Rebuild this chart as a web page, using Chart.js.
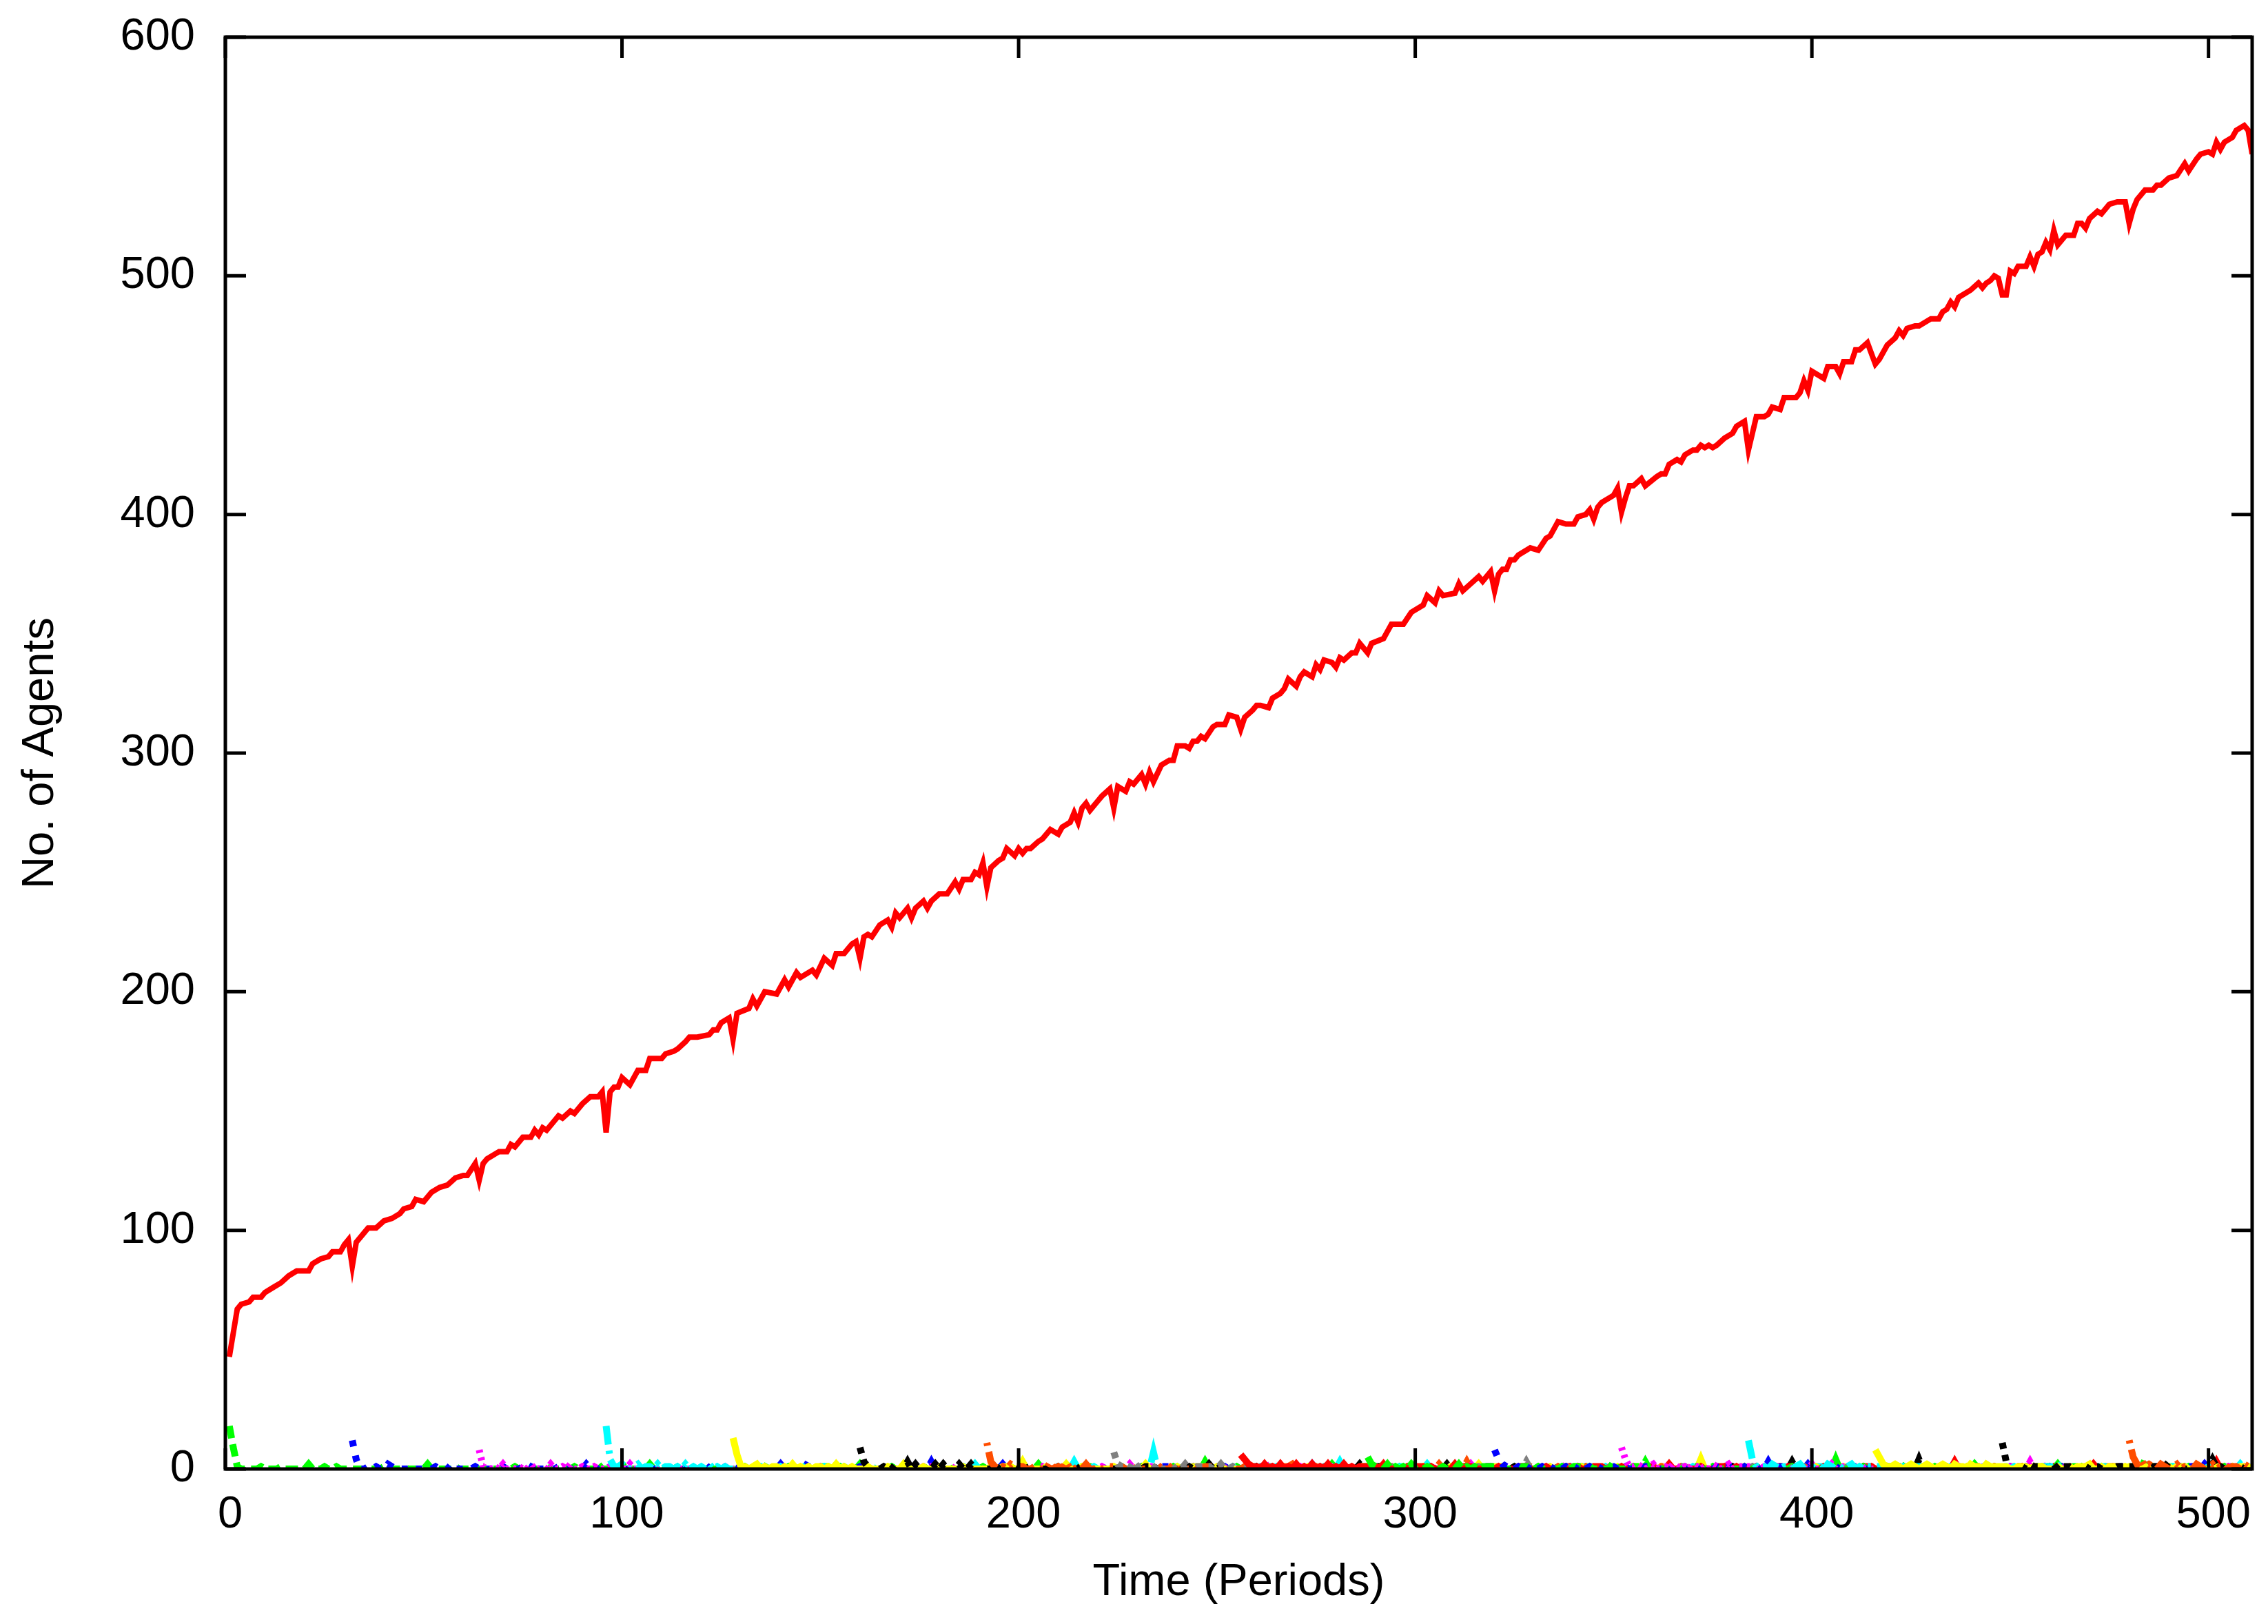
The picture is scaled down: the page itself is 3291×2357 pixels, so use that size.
<!DOCTYPE html>
<html>
<head>
<meta charset="utf-8">
<title>No. of Agents</title>
<script src="https://cdn.jsdelivr.net/npm/chart.js@4.4.1/dist/chart.umd.min.js"></script>
<style>
	html, body { margin: 0; padding: 0; background: #fff; }
	canvas { display: block; }
</style>
</head>
<body>
<canvas id="graph" width="3291" height="2357"></canvas>
<script>
// main group, [period, agents]
var redLine = [[1,47],[2,57],[3,67],[4,69],[6,70],[7,72],[9,72],[10,74],[12,76],[14,78],[16,81],[18,83],[21,83],[22,86],[24,88],[26,89],[27,91],[29,91],[30,94],[31,96],[32,85],[33,95],[35,99],[36,101],[38,101],[40,104],[42,105],[44,107],[45,109],[47,110],[48,113],[50,112],[52,116],[54,118],[56,119],[58,122],[60,123],[61,123],[63,128],[64,121],[65,128],[66,130],[69,133],[71,133],[72,136],[73,135],[75,139],[77,139],[78,142],[79,140],[80,143],[81,142],[84,148],[85,147],[87,150],[88,149],[90,153],
	[92,156],[94,156],[95,158],[96,141],[97,158],[98,160],[99,160],[100,164],[102,161],[104,167],[106,167],[107,172],[110,172],[111,174],[113,175],[114,176],[116,179],[117,181],[119,181],[122,182],[123,184],[124,184],[125,187],[127,189],[128,180],[129,191],[132,193],[133,197],[134,194],[136,200],[139,199],[141,205],[142,202],[144,208],[145,206],[148,209],[149,207],[151,214],[153,211],[154,216],[156,216],[158,220],[159,221],[160,214],[161,223],[162,224],[163,223],[165,228],[167,230],[168,227],[169,233],[170,231],[172,235],[173,231],[174,235],[176,238],[177,235],[178,238],[180,241],
	[182,241],[184,246],[185,243],[186,247],[188,247],[189,250],[190,249],[191,254],[192,244],[193,252],[195,255],[196,256],[197,260],[199,257],[200,260],[201,258],[202,260],[203,260],[205,263],[206,264],[208,268],[210,266],[211,269],[213,271],[214,275],[215,271],[216,277],[217,279],[218,276],[220,280],[221,282],[223,285],[224,277],[225,286],[227,284],[228,288],[229,287],[231,291],[232,287],[233,292],[234,288],[236,295],[238,297],[239,297],[240,303],[242,303],[243,302],[244,305],[245,305],[246,307],[247,306],[249,311],[250,312],[252,312],[253,316],[255,315],[256,310],[257,315],[259,318],[260,320],[261,320],[263,319],[264,323],[266,325],[267,327],[268,331],[270,328],
	[271,332],[272,334],[274,332],[275,337],[276,335],[277,339],[279,338],[280,336],[281,340],[282,339],[284,342],[285,342],[286,346],[288,342],[289,346],[292,348],[293,351],[294,354],[297,354],[299,359],[302,362],[303,366],[305,363],[306,368],[307,366],[310,367],[311,371],[312,368],[314,371],[316,374],[317,372],[319,376],[320,368],[321,375],[322,377],[323,377],[324,381],[325,381],[326,383],[329,386],[331,385],[333,390],[334,391],[336,397],[338,396],[340,396],[341,399],[343,400],[344,402],[345,398],[346,403],[347,405],[349,407],[350,408],[351,411],[352,401],[353,407],[354,412],[355,412],[357,415],[358,412],[361,416],
	[362,417],[363,417],[364,421],[366,423],[367,422],[368,425],[370,427],[371,427],[372,429],[373,428],[374,429],[375,428],[376,429],[378,432],[380,434],[381,437],[383,439],[384,427],[385,434],[386,441],[388,441],[389,442],[390,445],[392,444],[393,449],[396,449],[397,451],[398,456],[399,452],[400,460],[403,457],[404,462],[406,462],[407,459],[408,464],[410,464],[411,469],[412,469],[414,472],[416,463],[417,465],[419,471],[421,474],[422,477],[423,475],[424,478],[426,479],[427,479],[430,482],[432,482],[433,485],[434,486],[435,489],[436,487],[437,491],[440,494],[442,497],[443,495],[444,497],[445,498],[446,500],[447,499],[448,492],[449,492],[450,502],[451,501],
	[452,504],[454,504],[455,508],[456,504],[457,509],[458,510],[459,514],[460,511],[461,519],[462,513],[464,517],[466,517],[467,522],[468,522],[469,520],[470,524],[472,527],[473,526],[475,530],[477,531],[479,531],[480,522],[481,528],[482,532],[484,536],[486,536],[487,538],[488,538],[490,541],[492,542],[494,547],[495,544],[497,549],[498,551],[500,552],[501,551],[502,556],[503,553],[504,556],[506,558],[507,561],[509,563],[510,561],[511,551]];

// groups founded every 32 periods: [period, agents] or [from, agents, to] for a plateau; zero where not listed
var green1 = [[1,18],[2,9],[3,1],[9,1],[14,1],[21,2],[25,1],[28,1],[40,1],[45,1],[51,2],[58,1],[73,1],[81,1],[88,1],[94,2],[100,2],[107,2],[113,3],[121,2],[125,1],[131,1],[137,3],[142,1],[146,1],[155,1],[160,2],[168,1],[176,1],[184,1],[191,1],[198,1],[205,2],[213,1],[226,1],[231,1],[239,1],[247,3],[255,1],[262,1],[270,1],[279,2],[296,1],[309,1],[322,1],[331,1],[357,1],[371,2],[383,1],[397,1],[413,1],[431,1],[441,2],[452,1],[468,1],[479,1],[489,1],[506,1],
	[150,1,152],[216,1,218],[286,1,288],[340,1,342],[404,1,405],[458,1,460],[496,1,498]];
var blue32 = [[32,12],[33,4],[36,1],[38,1],[41,2],[42,1],[47,1],[53,1],[57,2],[63,1],[70,1],[75,1],[78,3],[84,1],[91,2],[97,1],[104,1],[110,1],[117,2],[121,2],[128,1],[134,1],[140,2],[147,3],[155,1],[166,1],[178,3],[186,1],[196,2],[209,1],[221,1],[231,1],[244,1],[252,1],[263,1],[274,2],[283,1],[292,1],[306,1],[318,1],[339,1],[353,1],[363,1],[381,1],[399,2],[418,1],[428,1],[447,1],[463,1],[481,1],[493,1],[503,1],
	[160,1,162],[236,1,238],[298,1,300],[370,1,372],[436,1,438],[486,1,488]];
var magenta64 = [[64,8],[65,1],[66,1],[68,1],[70,2],[72,1],[74,1],[77,2],[80,1],[82,2],[85,1],[87,2],[90,1],[93,1],[97,1],[102,2],[110,1],[119,1],[126,1],[132,2],[140,1],[150,1],[158,1],[170,1],[183,1],[192,1],[206,1],[212,1],[221,1],[228,2],[242,1],[253,1],[262,3],[271,1],[286,1],[297,1],[306,1],[314,2],[321,1],[330,1],[338,2],[347,1],[361,1],[386,1],[394,1],[412,1],[425,1],[441,1],[458,2],[467,1],[476,1],[486,1],[505,1],
	[176,1,178],[233,1,235],[279,1,281],[326,1,328],[374,1,376],[432,1,434],[490,1,492]];
var cyan96 = [[96,18],[97,4],[98,1],[99,1],[100,2],[101,1],[103,1],[104,2],[106,1],[107,1],[109,2],[111,1],[112,1],[114,1],[116,2],[118,1],[120,1],[122,2],[124,1],[126,1],[130,1],[135,1],[140,1],[145,2],[151,1],[156,1],[163,1],[172,1],[180,1],[189,2],[196,1],[203,1],[214,3],[219,1],[226,1],[234,7],[240,1],[246,1],[254,1],[265,1],[276,1],[281,3],[292,1],[303,2],[314,1],[325,1],[337,1],[348,1],[359,1],[370,1],[379,1],[391,1],[421,1],[440,1],[447,1],[454,1],[466,1],[478,1],[491,1],[501,1],
	[185,1,187],[208,1,210],[258,1,260],[296,1,298],[342,1,344],[401,1,403],[458,1,460],[496,1,498]];
var yellow128 = [[128,13],[129,6],[130,1],[131,1],[133,1],[134,2],[136,1],[138,1],[139,1],[141,1],[143,2],[145,1],[147,1],[149,1],[150,1],[152,1],[154,2],[156,1],[158,1],[162,1],[167,1],[171,2],[176,1],[180,1],[186,1],[193,1],[201,3],[207,1],[212,2],[216,1],[224,1],[232,2],[240,1],[250,1],[259,1],[273,1],[282,1],[291,1],[302,1],[309,1],[316,2],[325,1],[334,1],[342,1],[351,1],[362,1],[372,4],[383,1],[392,1],[401,1],[412,1],[439,1],[451,1],[474,1],[484,1],[494,1],
	[196,1,198],[244,1,246],[286,1,288],[320,1,322],[355,1,357],[406,1,408],[456,1,458],[480,1,482]];
var black160 = [[160,9],[161,3],[162,1],[164,2],[166,1],[169,2],[172,3],[174,2],[176,1],[179,2],[181,2],[183,1],[185,2],[188,2],[190,1],[194,2],[198,1],[201,3],[205,2],[210,1],[214,2],[220,1],[229,2],[237,2],[243,1],[248,2],[255,1],[260,1],[266,1],[272,1],[279,2],[286,2],[295,2],[300,1],[308,2],[314,1],[325,1],[332,1],[344,2],[352,1],[361,1],[370,1],[380,1],[386,1],[395,3],[404,3],[413,1],[420,1],[427,4],[431,1],[438,1],[444,1],
	[232,1,234],[251,1,253],[289,1,291],[318,1,320],[347,1,349],[374,1,376],[415,1,417],[446,1,448]];
var orange192 = [[192,11],[193,3],[194,1],[196,1],[198,2],[201,1],[204,1],[208,3],[210,1],[212,3],[215,1],[217,2],[220,1],[222,1],[226,1],[230,1],[235,2],[239,2],[244,1],[250,1],[257,1],[263,1],[269,2],[275,1],[282,1],[290,1],[299,1],[306,2],[313,3],[320,1],[329,1],[336,1],[343,1],[358,1],[367,1],[378,1],[398,1],[407,1],[415,1],[422,1],[433,1],[448,1],[462,1],[470,1],[487,3],[499,1],
	[199,1,200],[223,1,225],[247,1,249],[266,1,268],[292,1,294],[338,1,340],[362,1,364],[390,1,392],[426,1,428],[454,1,456],[474,1,476],[502,1,504]];
var gray224 = [[224,7],[225,2],[226,1],[227,1],[229,3],[232,1],[235,2],[238,1],[240,1],[242,2],[245,1],[248,1],[251,2],[254,1],[258,1],[264,1],[270,1],[277,1],[283,1],[289,1],[296,2],[301,1],[311,1],[319,1],[328,3],[334,1],[341,1],[349,1],[355,1],[363,1],[374,1],[385,1],[396,1],[409,1],[419,1],[429,1],[446,1],[460,1],[470,1],[482,1],[495,1],[506,1],
	[230,1,231],[246,1,247],[261,1,263],[292,1,294],[314,1,316],[336,1,338],[366,1,368],[398,1,400],[422,1,424],[452,1,454],[486,1,488]];
var red256 = [[256,6],[257,4],[258,2],[259,1],[260,1],[262,2],[264,1],[266,2],[268,1],[270,2],[272,1],[274,2],[276,1],[278,2],[280,1],[282,2],[284,1],[286,1],[292,2],[298,1],[304,1],[310,2],[321,1],[333,1],[341,1],[352,1],[364,2],[372,1],[381,1],[391,1],[403,1],[410,1],[419,1],[429,1],[436,3],[446,1],[453,1],[461,1],[471,2],[485,1],[492,1],[502,3],[508,1],
	[287,1,290],[300,1,302],[312,1,314],[326,1,328],[345,1,347],[358,1,360],[376,1,378],[394,1,396],[413,1,415],[440,1,442],[476,1,478],[496,1,498]];
var green288 = [[288,5],[289,2],[290,1],[291,1],[293,2],[295,1],[297,1],[299,2],[301,1],[303,1],[305,2],[307,1],[309,1],[311,2],[313,1],[315,1],[317,1],[325,1],[331,1],[337,1],[344,1],[350,3],[358,3],[366,1],[375,1],[386,1],[395,1],[406,4],[413,1],[424,3],[434,1],[446,1],[462,2],[473,1],[484,4],[495,1],[504,1],
	[318,1,320],[327,1,329],[340,1,342],[354,1,356],[369,1,371],[390,1,392],[418,1,420],[440,1,442],[466,1,468],[490,1,492]];
var blue320 = [[320,8],[321,4],[322,2],[323,1],[324,2],[326,1],[328,1],[330,2],[332,1],[334,1],[336,2],[338,1],[340,1],[342,2],[344,1],[346,1],[350,1],[356,1],[363,2],[369,1],[376,1],[383,1],[389,3],[396,1],[406,1],[416,1],[426,1],[433,1],[442,2],[450,1],[459,3],[466,1],[472,2],[481,1],[490,1],[499,2],[510,1],
	[348,1,349],[358,1,360],[378,1,380],[392,1,394],[410,1,412],[420,1,422],[436,1,438],[454,1,456],[476,1,478],[494,1,496],[504,1,506]];
var magenta352 = [[352,9],[353,4],[354,1],[355,1],[356,2],[357,1],[359,1],[360,2],[362,1],[363,1],[365,2],[366,1],[368,1],[370,2],[371,1],[373,1],[375,2],[376,1],[378,1],[379,2],[381,1],[382,1],[388,1],[394,1],[400,2],[405,2],[414,1],[421,1],[428,1],[437,3],[446,1],[455,3],[464,1],[476,1],[483,1],[496,2],[502,1],[509,1],
	[383,1,386],[390,1,392],[408,1,410],[424,1,426],[440,1,442],[450,1,452],[468,1,470],[488,1,490],[505,1,507]];
var cyan384 = [[384,12],[385,4],[386,1],[387,1],[388,1],[390,2],[391,1],[393,1],[394,1],[396,1],[397,2],[399,1],[400,1],[402,1],[404,2],[405,1],[407,1],[409,1],[410,2],[412,1],[414,1],[418,1],[423,1],[429,1],[432,1],[439,1],[444,1],[451,1],[457,1],[463,2],[470,1],[477,1],[487,1],[494,1],[500,1],[508,2],
	[415,1,417],[426,1,428],[435,1,437],[447,1,449],[460,1,462],[472,1,474],[481,1,483],[490,1,492],[502,1,504]];
var yellow416 = [[416,8],[417,5],[418,2],[419,1],[420,1],[421,2],[422,1],[424,1],[425,2],[426,1],[428,1],[429,2],[430,1],[432,1],[433,2],[434,1],[436,2],[437,1],[438,1],[440,2],[441,1],[442,1],[444,2],[445,1],[446,1],[449,1],[454,1],[458,1],[462,1],[465,1],[470,2],[473,1],[479,1],[486,1],[490,1],[498,1],[502,1],[506,1],
	[447,1,448],[452,1,453],[456,1,457],[467,1,469],[475,1,477],[482,1,484],[492,1,494],[508,1,510]];
var black448 = [[448,11],[449,3],[450,2],[451,1],[452,1],[453,1],[455,2],[456,1],[457,1],[459,1],[460,1],[461,2],[463,1],[464,1],[465,1],[467,1],[468,2],[469,1],[471,1],[472,1],[474,1],[475,2],[477,1],[478,1],[481,1],[484,1],[486,1],[490,3],[493,1],[496,1],[498,1],[501,4],[505,2],[508,1],[510,1],
	[479,1,480],[487,1,489],[499,1,500],[502,1,503],[506,1,507]];
var orange480 = [[480,12],[481,5],[482,2],[483,4],[484,1],[485,2],[486,1],[488,2],[489,1],[491,1],[492,2],[494,1],[495,1],[497,2],[498,1],[500,1],[501,2],[503,1],[504,2],[506,1],[507,1],[509,2],[510,1]];

var xTicks = [0, 100, 200, 300, 400, 500];
var yTicks = [0, 100, 200, 300, 400, 500, 600];
var lastPeriod = 511;

var dl = 4.5;
var styles = [
	{ data: green1, color: "#00ff00", dash: [4, 2] },
	{ data: blue32, color: "#0000ff", dash: [2, 3] },
	{ data: magenta64, color: "#ff00ff", dash: [1, 1.5] },
	{ data: cyan96, color: "#00ffff", dash: [6, 2, 1, 2] },
	{ data: yellow128, color: "#ffff00", dash: [] },
	{ data: black160, color: "#000000", dash: [2, 2, 2, 6] },
	{ data: orange192, color: "#ff4d00", dash: [1, 2, 6, 2, 1, 2] },
	{ data: gray224, color: "#808080", dash: [2, 2, 2, 2, 2, 2, 2, 4] },
	{ data: red256, color: "#ff0000", dash: [] },
	{ data: green288, color: "#00ff00", dash: [4, 2] },
	{ data: blue320, color: "#0000ff", dash: [2, 3] },
	{ data: magenta352, color: "#ff00ff", dash: [1, 1.5] },
	{ data: cyan384, color: "#00ffff", dash: [6, 2, 1, 2] },
	{ data: yellow416, color: "#ffff00", dash: [] },
	{ data: black448, color: "#000000", dash: [2, 2, 2, 6] },
	{ data: orange480, color: "#ff4d00", dash: [1, 2, 6, 2, 1, 2] }
];

// one point per period from the group's first period, zero when not listed
function groupPoints(marks) {
	var lookup = {};
	for (var i = 0; i < marks.length; i++) {
		var m = marks[i];
		var last = m.length > 2 ? m[2] : m[0];
		for (var q = m[0]; q <= last; q++) lookup[q] = Math.max(lookup[q] || 0, m[1]);
	}
	var pts = [];
	for (var p = marks[0][0]; p <= lastPeriod; p++) {
		pts.push({ x: p, y: lookup[p] || 0 });
	}
	return pts;
}

var datasets = [{
	data: redLine.map(function (d) { return { x: d[0], y: d[1] }; }),
	borderColor: "#ff0000",
	borderWidth: 8,
	order: 0
}];
styles.forEach(function (s, i) {
	datasets.push({
		data: groupPoints(s.data),
		borderColor: s.color,
		borderWidth: 10,
		borderDash: s.dash.map(function (v) { return v * dl; }),
		order: -(i + 1)
	});
});

// gnuplot style border with inward ticks, drawn over the lines
var frame = {
	id: "frame",
	afterDatasetsDraw: function (chart) {
		var ctx = chart.ctx;
		var a = chart.chartArea;
		var xs = chart.scales.x, ys = chart.scales.y;
		var len = 30;
		ctx.save();
		ctx.strokeStyle = "#000";
		ctx.lineWidth = 5;
		ctx.beginPath();
		xTicks.forEach(function (v) {
			var px = xs.getPixelForValue(v);
			ctx.moveTo(px, a.bottom); ctx.lineTo(px, a.bottom - len);
			ctx.moveTo(px, a.top); ctx.lineTo(px, a.top + len);
		});
		yTicks.forEach(function (v) {
			var py = ys.getPixelForValue(v);
			ctx.moveTo(a.left, py); ctx.lineTo(a.left + len, py);
			ctx.moveTo(a.right, py); ctx.lineTo(a.right - len, py);
		});
		ctx.stroke();
		ctx.strokeRect(a.left, a.top, a.right - a.left, a.bottom - a.top);
		ctx.restore();
	}
};

var font = { family: "'Liberation Sans', Arial, sans-serif", size: 65 };

var ctx = document.getElementById("graph");
var graph = new Chart(ctx, {
	type: "line",
	data: { datasets: datasets },
	options: {
		responsive: false,
		animation: false,
		devicePixelRatio: 1,
		parsing: false,
		normalized: true,
		layout: { autoPadding: false, padding: { top: 54, right: 23, left: 0, bottom: 0 } },
		elements: {
			point: { radius: 0 },
			line: { tension: 0, fill: false, borderJoinStyle: "miter", borderCapStyle: "butt" }
		},
		plugins: {
			legend: { display: false },
			tooltip: { enabled: false }
		},
		scales: {
			x: {
				type: "linear",
				min: 0,
				max: lastPeriod,
				afterBuildTicks: function (s) { s.ticks = xTicks.map(function (v) { return { value: v }; }); },
				afterFit: function (s) { s.height = 225; s.paddingLeft = 0; s.paddingRight = 0; },
				grid: { display: false, drawTicks: false },
				border: { display: false },
				ticks: { font: font, color: "#000", padding: 28, labelOffset: 7, maxRotation: 0, autoSkip: false },
				title: { display: true, text: "Time (Periods)", font: font, color: "#000", padding: { top: 0, bottom: 21 } }
			},
			y: {
				type: "linear",
				min: 0,
				max: 600,
				afterBuildTicks: function (s) { s.ticks = yTicks.map(function (v) { return { value: v }; }); },
				afterFit: function (s) { s.width = 327; s.paddingTop = 0; s.paddingBottom = 0; },
				grid: { display: false, drawTicks: false },
				border: { display: false },
				ticks: { font: font, color: "#000", padding: 44 },
				title: { display: true, text: "No. of Agents", font: font, color: "#000", padding: { top: 20, bottom: 0 } }
			}
		}
	},
	plugins: [frame]
});
</script>
</body>
</html>
